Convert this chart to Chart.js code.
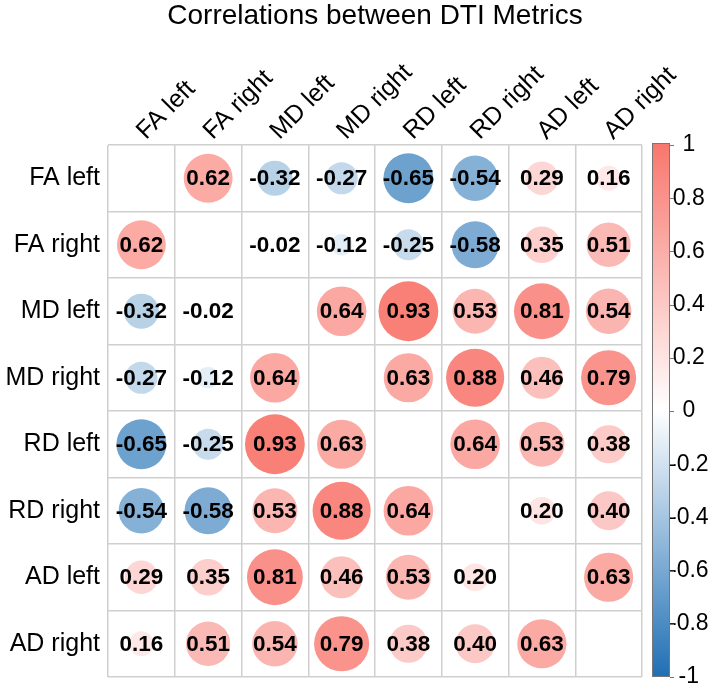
<!DOCTYPE html>
<html><head><meta charset="utf-8">
<script src="https://cdn.jsdelivr.net/npm/chart.js@4/dist/chart.umd.min.js"></script>
<style>html,body{margin:0;padding:0;background:#fff;}</style>
</head><body>
<canvas id="c" width="716" height="690"></canvas>
<script>
const metrics = ['FA left','FA right','MD left','MD right','RD left','RD right','AD left','AD right'];
const FA_left  = [1.00, 0.62, -0.32, -0.27, -0.65, -0.54, 0.29, 0.16];
const FA_right = [0.62, 1.00, -0.02, -0.12, -0.25, -0.58, 0.35, 0.51];
const MD_left  = [-0.32, -0.02, 1.00, 0.64, 0.93, 0.53, 0.81, 0.54];
const MD_right = [-0.27, -0.12, 0.64, 1.00, 0.63, 0.88, 0.46, 0.79];
const RD_left  = [-0.65, -0.25, 0.93, 0.63, 1.00, 0.64, 0.53, 0.38];
const RD_right = [-0.54, -0.58, 0.53, 0.88, 0.64, 1.00, 0.20, 0.40];
const AD_left  = [0.29, 0.35, 0.81, 0.46, 0.53, 0.20, 1.00, 0.63];
const AD_right = [0.16, 0.51, 0.54, 0.79, 0.38, 0.40, 0.63, 1.00];
const colorbarTicks = [1, 0.8, 0.6, 0.4, 0.2, 0, -0.2, -0.4, -0.6, -0.8, -1];

const matrix = [FA_left, FA_right, MD_left, MD_right, RD_left, RD_right, AD_left, AD_right];
const FONT = '"Liberation Sans", Arial, sans-serif';
const POS = [248, 118, 109];
const NEG = [31, 111, 180];
const MAX_R = 31;

function colorFor(v) {
  const a = Math.min(1, Math.abs(v));
  const e = v >= 0 ? POS : NEG;
  const c = e.map(ch => Math.round(255 + (ch - 255) * a));
  return `rgb(${c[0]},${c[1]},${c[2]})`;
}

const points = [];
matrix.forEach((row, i) => {
  row.forEach((v, j) => {
    if (i !== j) points.push({ x: metrics[j], y: metrics[i], v: v });
  });
});

function noPad(s) { s.paddingTop = 0; s.paddingBottom = 0; s.paddingLeft = 0; s.paddingRight = 0; }

const cellText = {
  id: 'cellText',
  afterDatasetsDraw(chart) {
    const ctx = chart.ctx;
    const meta = chart.getDatasetMeta(0);
    ctx.save();
    ctx.font = 'bold 22.5px ' + FONT;
    ctx.fillStyle = '#000';
    ctx.textAlign = 'center';
    ctx.textBaseline = 'middle';
    meta.data.forEach((el, k) => {
      const v = chart.data.datasets[0].data[k].v;
      ctx.fillText(v.toFixed(2), el.x, el.y + 1);
    });
    ctx.restore();
  }
};

const colorbar = {
  id: 'colorbar',
  afterDraw(chart) {
    const s = chart.scales.cbar;
    const ctx = chart.ctx;
    const top = s.getPixelForValue(1) - 2;
    const bot = s.getPixelForValue(-1);
    const x0 = s.left + 10, x1 = s.left + 28;
    const g = ctx.createLinearGradient(0, top, 0, bot);
    g.addColorStop(0, colorFor(1));
    g.addColorStop(0.5, '#ffffff');
    g.addColorStop(1, colorFor(-1));
    ctx.save();
    ctx.fillStyle = g;
    ctx.fillRect(x0, top, x1 - x0, bot - top);
    ctx.strokeStyle = '#777';
    ctx.lineWidth = 1;
    ctx.strokeRect(x0 + 0.5, top + 0.5, x1 - x0 - 1, bot - top - 1);
    ctx.beginPath();
    s.ticks.forEach(t => {
      const y = Math.round(s.getPixelForValue(t.value)) + 0.5;
      ctx.moveTo(x1, y); ctx.lineTo(x1 + 4, y);
    });
    ctx.stroke();
    ctx.restore();
  }
};

new Chart(document.getElementById('c'), {
  type: 'bubble',
  data: {
    datasets: [{
      data: points,
      xAxisID: 'x', yAxisID: 'y',
      backgroundColor: ctx => colorFor(ctx.raw ? ctx.raw.v : 0),
      borderWidth: 0,
      radius: ctx => MAX_R * Math.sqrt(Math.abs(ctx.raw ? ctx.raw.v : 0)),
      hoverRadius: 0,
      clip: false
    }]
  },
  options: {
    responsive: false,
    devicePixelRatio: 1,
    animation: false,
    events: [],
    layout: { autoPadding: false, padding: { left: 0, right: 0, top: 0, bottom: 13 } },
    plugins: {
      legend: { display: false },
      tooltip: { enabled: false },
      title: {
        display: true,
        fullSize: false,
        text: 'Correlations between DTI Metrics',
        color: '#000',
        font: { family: FONT, size: 28, weight: 'normal', lineHeight: 1.0 },
        padding: { top: 2, bottom: 0 }
      }
    },
    scales: {
      x: {
        type: 'category',
        labels: metrics,
        position: 'top',
        offset: true,
        grid: { offset: true, color: '#cfcfcf', lineWidth: 1.5, drawTicks: false },
        border: { display: false },
        ticks: {
          autoSkip: false, minRotation: 45, maxRotation: 45,
          color: '#000', padding: -1, labelOffset: 21,
          font: { family: FONT, size: 25 }
        },
        afterFit: s => { s.height = 115; noPad(s); }
      },
      y: {
        type: 'category',
        labels: metrics,
        position: 'left',
        offset: true,
        grid: { offset: true, color: '#cfcfcf', lineWidth: 1.5, drawTicks: false },
        border: { display: false },
        ticks: {
          autoSkip: false, color: '#000', padding: 8,
          font: { family: FONT, size: 25 }
        },
        afterFit: s => { s.width = 108; noPad(s); }
      },
      cbar: {
        type: 'linear',
        position: 'right',
        min: -1, max: 1,
        grid: { display: false },
        border: { display: false },
        afterBuildTicks: s => { s.ticks = colorbarTicks.map(v => ({ value: v })); },
        ticks: {
          color: '#000', padding: 19, crossAlign: 'center',
          font: { family: FONT, size: 23 },
          callback: v => String(Math.round(v * 10) / 10)
        },
        afterFit: s => { s.width = 74; noPad(s); }
      }
    }
  },
  plugins: [cellText, colorbar]
});
</script>
</body></html>
